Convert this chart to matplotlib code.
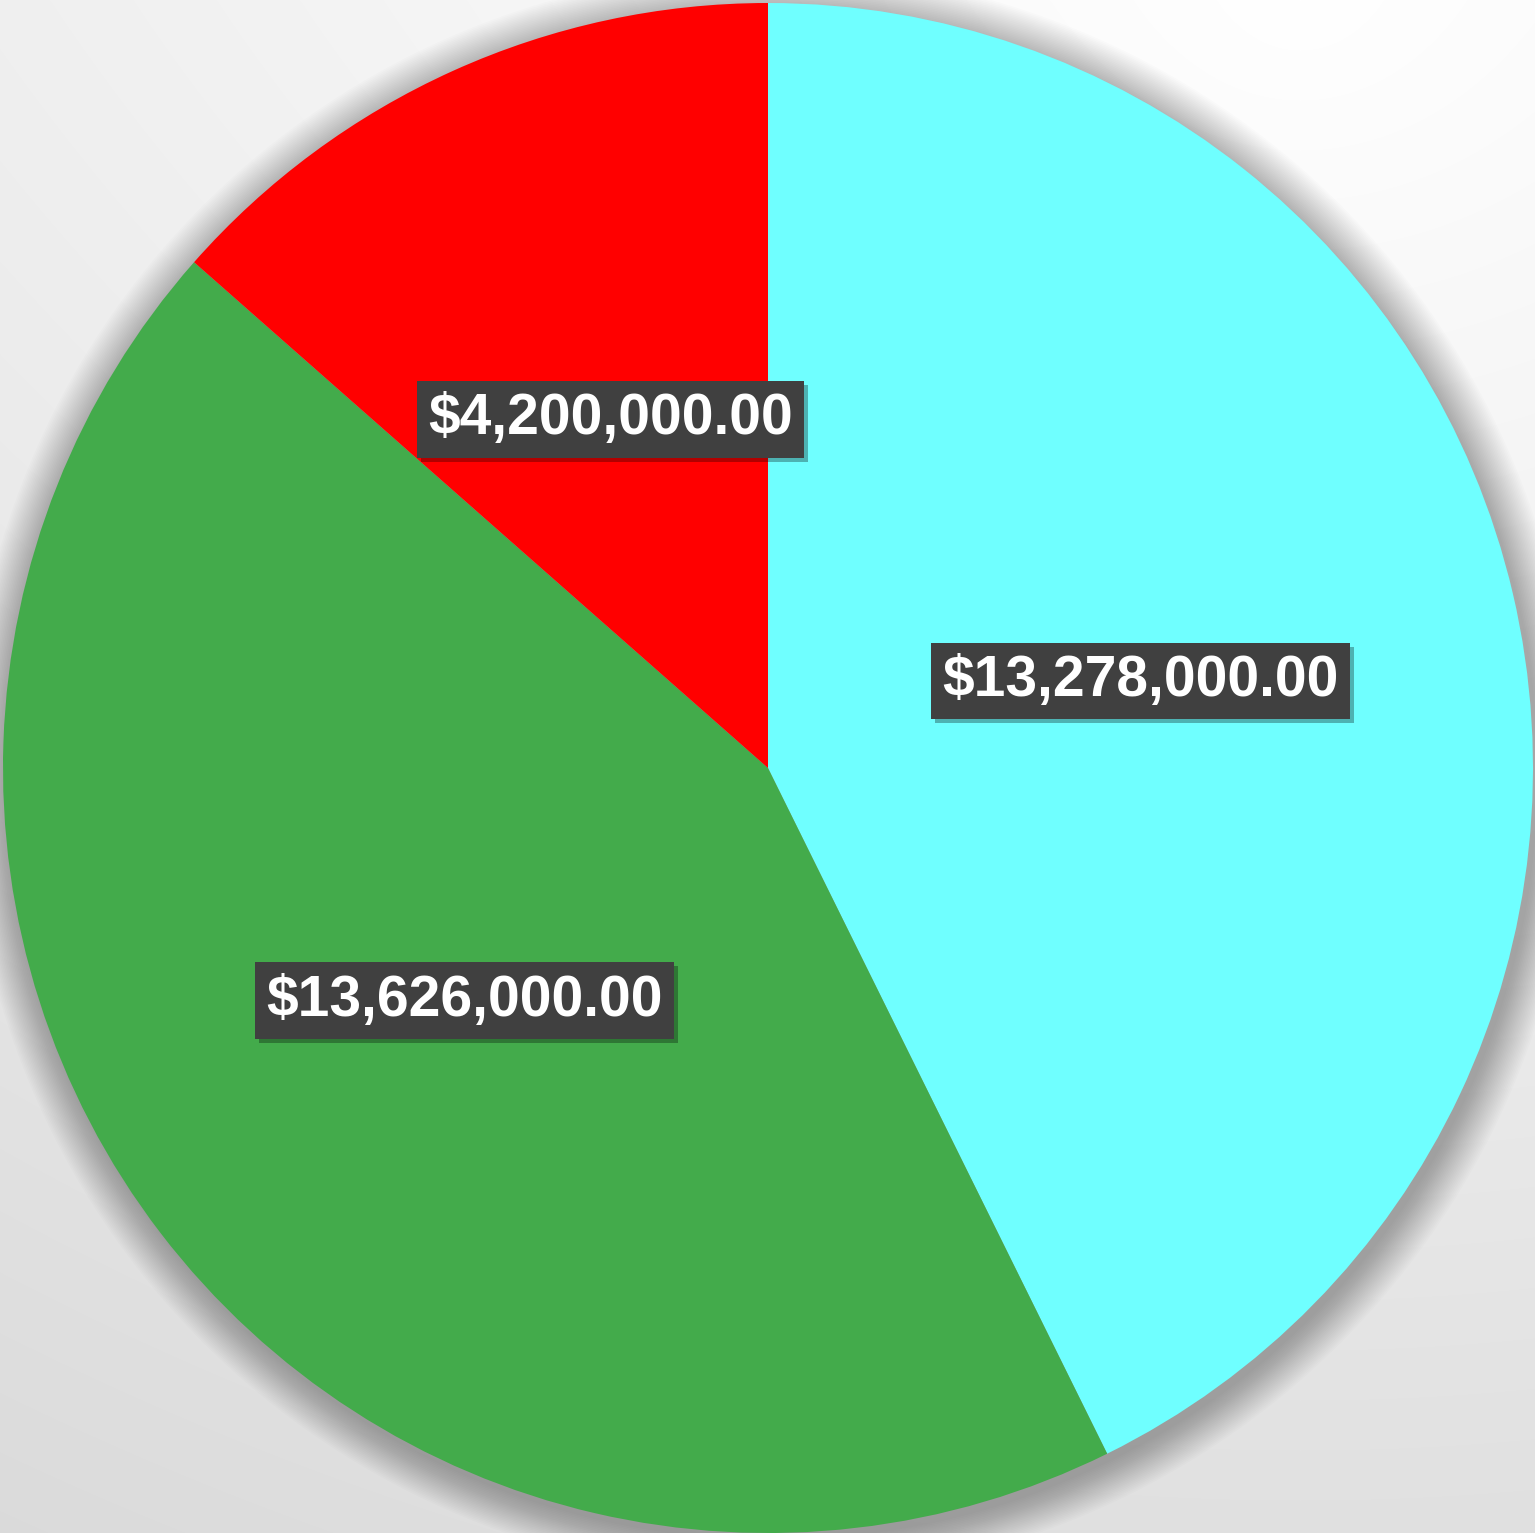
import numpy as np
import matplotlib
matplotlib.use("agg")
import matplotlib.pyplot as plt
import matplotlib.patheffects as pe
from matplotlib.patches import Circle

## slice data, clockwise from 12 o'clock
values = [13278000, 13626000, 4200000]
colors = ["#6fffff", "#43ab4b", "#ff0000"]
labels = ["$13,278,000.00", "$13,626,000.00", "$4,200,000.00"]

W, H = 1535, 1533
fig = plt.figure(figsize=(W / 100, H / 100), dpi=100)

## background gradient (lighter towards top right)
bg = fig.add_axes([0, 0, 1, 1])
yy, xx = np.mgrid[0:H, 0:W]
dist = np.hypot(xx - 1300, yy - 0)
val = (255 - 0.012 * dist - 0.008 * yy) / 255.
val = np.clip(val, 0, 1)
bg.imshow(np.dstack([val, val, val]), extent=(0, W, 0, H), origin="upper", aspect="auto")
bg.set_axis_off()

ax = fig.add_axes([0, 0, 1, 1])
ax.set_xlim(0, W)
ax.set_ylim(0, H)
ax.set_axis_off()

cx, cy, R = 768, H - 768, 765

## soft shadow around the pie
for i in range(25):
    ax.add_patch(Circle((cx + 4, cy - 6), R + 1 + i * 1.6, color="k", alpha=0.012, lw=0, zorder=0))

wedges, texts, autotexts = ax.pie(values, colors=colors, startangle=90, counterclock=False,
                                  center=(cx, cy), radius=R, frame=True,
                                  autopct=lambda p: "", pctdistance=0.5,
                                  wedgeprops=dict(linewidth=0))
ax.set_xlim(0, W)
ax.set_ylim(0, H)
ax.set_axis_off()

for t, lab in zip(autotexts, labels):
    t.set_text(lab)
    t.set_family(["Liberation Sans", "DejaVu Sans"])
    t.set_fontweight("bold")
    t.set_fontsize(41)
    t.set_color("white")
    t.set_bbox(dict(boxstyle="square,pad=0.2", facecolor="#404040", edgecolor="none"))
    t.set_zorder(5)

fig.canvas.draw()
for t in autotexts:
    bp = t.get_bbox_patch()
    bp.set_path_effects([pe.SimplePatchShadow(offset=(3, -3), shadow_rgbFace="k", alpha=0.3), pe.Normal()])

fig.savefig("out.png", dpi=100)
